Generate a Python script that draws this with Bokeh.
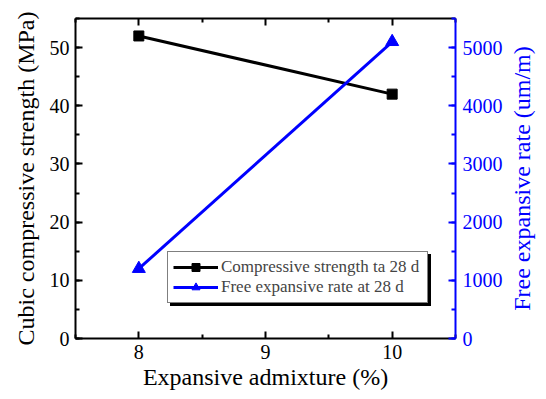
import math
from bokeh.plotting import figure
from bokeh.models import Range1d, LinearAxis, FixedTicker, Legend, LegendItem, Label
from bokeh.embed import file_html
from bokeh.resources import INLINE

# Data
admixture = [8, 10]
strength = [52, 42]
expansion = [1200, 5100]
x_ticks = [8, 9, 10]
x_minor = [7.5, 8.5, 9.5, 10.5]
label_strength = "Compressive strength ta 28 d"
label_expansion = "Free expansive rate at 28 d"
right_title = "Free expansive rate (um/m)"

FONT = "Times New Roman"
BLUE = "#0000FF"

p = figure(frame_width=380, frame_height=320, x_range=Range1d(7.5, 10.5), y_range=Range1d(0, 55),
           output_backend="svg", toolbar_location=None,
           min_border_left=75, min_border_right=91, min_border_top=18, min_border_bottom=61)
p.grid.visible = False
p.outline_line_color = None
p.background_fill_color = "white"
p.border_fill_color = "white"
p.extra_y_ranges = {"exp": Range1d(0, 5500)}

def style_axis(ax, color="black", font=FONT):
    ax.axis_line_color = color
    ax.axis_line_width = 2
    ax.major_tick_line_color = color
    ax.minor_tick_line_color = color
    ax.major_tick_line_width = 2
    ax.minor_tick_line_width = 2
    ax.major_tick_in = 7
    ax.major_tick_out = 0
    ax.minor_tick_in = 4
    ax.minor_tick_out = 0
    ax.major_label_text_font = font
    ax.major_label_text_font_size = "20px"
    ax.major_label_text_color = color
    ax.axis_label_text_font = font
    ax.axis_label_text_font_size = "24px"
    ax.axis_label_text_font_style = "normal"
    ax.axis_label_text_color = color

xticker = FixedTicker(ticks=x_ticks, minor_ticks=x_minor)
xa = p.xaxis[0]
xa.ticker = xticker
style_axis(xa)
xa.axis_label = "Expansive admixture (%)"
xa.major_label_standoff = 6
xa.axis_label_standoff = 2

ya = p.yaxis[0]
style_axis(ya)
ya.ticker.desired_num_ticks = 6
ya.ticker.num_minor_ticks = 2
ya.axis_label = "Cubic compressive strength (MPa)"
ya.major_label_standoff = 6
ya.axis_label_standoff = 8

top = LinearAxis(ticker=FixedTicker(ticks=x_ticks, minor_ticks=x_minor))
style_axis(top)
top.major_label_overrides = {8: "", 9: "", 10: ""}
top.major_label_text_font_size = "1px"
top.major_label_standoff = 0
p.add_layout(top, "above")

ra = LinearAxis(y_range_name="exp")
style_axis(ra, BLUE)
ra.ticker.desired_num_ticks = 6
ra.ticker.num_minor_ticks = 2
ra.major_label_standoff = 7
p.add_layout(ra, "right")

# right-axis title, reading bottom-to-top like the reference
rt = Label(x=16, y=160, x_units="screen", y_units="screen", text=right_title,
           angle=math.pi / 2, text_align="center", text_baseline="middle",
           text_font=FONT, text_font_size="24px", text_color=BLUE)
p.add_layout(rt, "right")

l1 = p.line(admixture, strength, line_width=3, color="black")
s1 = p.scatter(admixture, strength, marker="square", size=10, color="black")
l2 = p.line(admixture, expansion, y_range_name="exp", line_width=3, color=BLUE)
s2 = p.scatter(admixture, expansion, y_range_name="exp", marker="triangle", size=13, color=BLUE)

def make_legend(loc, shadow=False):
    if shadow:
        items = [LegendItem(label=" ", renderers=[l1, s1]),
                 LegendItem(label=" ", renderers=[l2, s2])]
    else:
        items = [LegendItem(label=label_strength, renderers=[l1, s1]),
                 LegendItem(label=label_expansion, renderers=[l2, s2])]
    lg = Legend(items=items, location=loc)
    lg.label_text_font = "Liberation Serif"
    lg.label_text_font_size = "17px"
    lg.glyph_width = 45
    lg.glyph_height = 20
    lg.label_height = 20
    lg.label_width = 201
    lg.label_standoff = 3
    lg.spacing = 0
    lg.padding = 5
    lg.margin = 0
    lg.border_line_color = "black"
    lg.border_line_width = 1
    if shadow:
        lg.background_fill_color = "black"
        lg.background_fill_alpha = 1
    else:
        lg.background_fill_color = "white"
        lg.background_fill_alpha = 1
    return lg

p.add_layout(make_legend((95, 32), shadow=True), "center")
p.add_layout(make_legend((92, 35)), "center")

open("out.html", "w").write(file_html(p, INLINE))
